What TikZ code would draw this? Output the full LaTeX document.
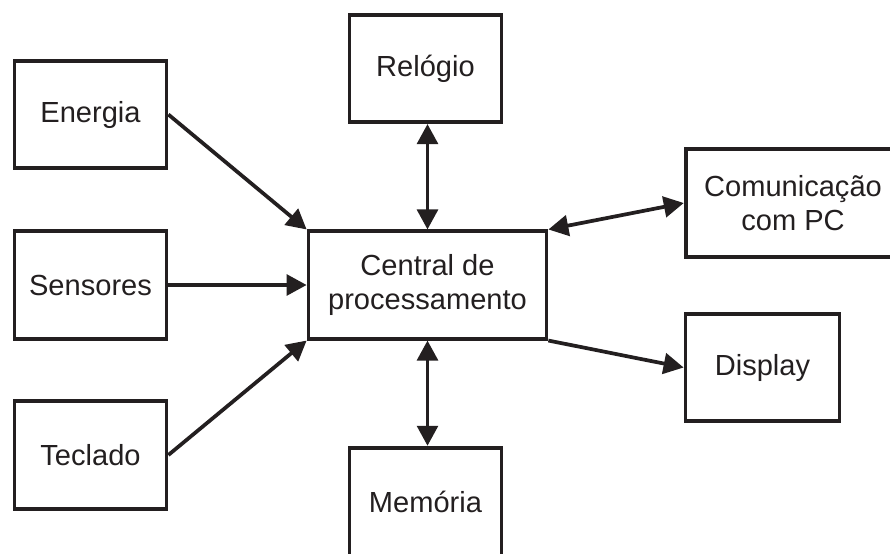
\documentclass[tikz,border=0pt]{standalone}
\usepackage{fontspec}
\setmainfont{Liberation Sans}
\usetikzlibrary{arrows.meta}
\definecolor{ink}{HTML}{231F20}
\begin{document}
\begin{tikzpicture}[x=0.75pt,y=-0.75pt,
  blk/.style={draw=ink,line width=2.8pt,rectangle,inner sep=0pt,
    minimum width=114pt,minimum height=80.5pt,align=center,
    font=\fontsize{21.8}{25.5}\selectfont,text=ink},
  conn/.style={draw=ink,line width=2.8pt,-{Triangle[length=15pt,width=15.5pt]}},
  biconn/.style={draw=ink,line width=2.8pt,{Triangle[length=15pt,width=15.5pt]}-{Triangle[length=15pt,width=15.5pt]}}]
\useasboundingbox (0,0) rectangle (890,554);
\clip (0,0) rectangle (890,554);
\node[blk] (ene) at (90.5,114.5) {Energia};
\node[blk] (sen) at (90.5,285) {Sensores};
\node[blk] (tec) at (90.5,455) {Teclado};
\node[blk] (rel) at (425.5,68.5) {Relógio};
\node[blk,minimum width=178.5pt] (cen) at (427.5,285) {Central de\\processamento};
\node[blk,minimum width=161pt] (com) at (793,203) {Comunicação\\com PC};
\node[blk,minimum width=115.5pt] (dis) at (762.5,367.5) {Display};
\node[blk,minimum height=81.5pt] (mem) at (425.5,502) {Memória};
\draw[conn] (ene.east) -- (cen.north west);
\draw[conn] (sen.east) -- (cen.west);
\draw[conn] (tec.east) -- (cen.south west);
\draw[biconn] (cen.north |- rel.south) -- (cen.north);
\draw[biconn] (cen.north east) -- (com.west);
\draw[conn] (cen.south east) -- (dis.west);
\draw[biconn] (cen.south) -- (cen.south |- mem.north);
\end{tikzpicture}
\end{document}
